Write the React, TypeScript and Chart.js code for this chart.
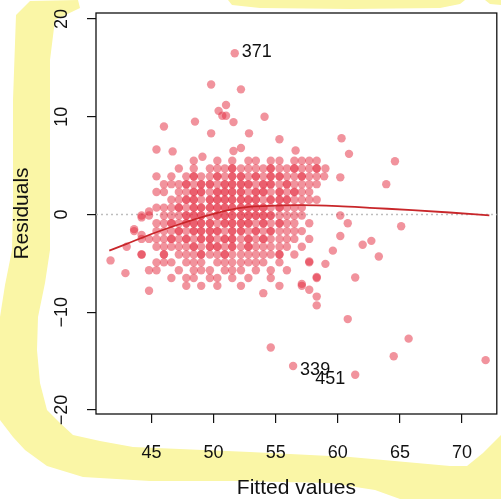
import { useEffect, useRef } from 'react';
import { Chart, registerables } from 'chart.js';

Chart.register(...registerables);

// ---------- data ----------
const residRows = [5.5, 4.7, 3.9, 3.1, 2.3, 1.5, 0.7, -0.1, -0.9, -1.7, -2.5, -3.3, -4.1, -4.9, -5.7, -6.5, -7.3];
const fittedRows = [
  [48.4, 50.3, 51.5, 52.8, 53.4, 54.6, 55.3, 56.5, 57.1, 57.7, 58.3],
  [47.2, 48.4, 49.7, 50.3, 50.9, 51.5, 52.2, 52.8, 53.4, 54.0, 54.6, 55.3, 55.9, 56.5, 57.1, 57.7, 58.3, 59.0],
  [45.4, 46.6, 47.8, 48.4, 49.0, 49.7, 50.3, 50.9, 51.5, 52.2, 52.8, 53.4, 54.0, 54.6, 55.3, 55.9, 56.5, 57.1, 57.7, 58.3, 58.9],
  [46.0, 46.6, 47.2, 47.8, 48.4, 49.0, 49.7, 50.3, 50.9, 51.5, 52.2, 52.8, 53.4, 54.0, 54.6, 55.3, 55.9, 56.5, 57.1, 57.7, 58.3],
  [45.4, 46.0, 47.2, 47.8, 48.4, 49.0, 49.7, 50.3, 50.9, 51.5, 52.2, 52.8, 53.4, 54.0, 54.6, 55.3, 55.9, 56.5, 57.1, 57.7],
  [46.6, 47.2, 47.8, 48.4, 49.0, 49.7, 50.3, 50.9, 51.5, 52.2, 52.8, 53.4, 54.0, 54.6, 55.3, 55.9, 56.5, 57.1, 57.7, 58.3],
  [45.4, 46.0, 46.6, 47.2, 47.8, 48.4, 49.0, 49.7, 50.3, 50.9, 51.5, 52.2, 52.8, 53.4, 54.0, 54.6, 55.3, 55.9, 56.5, 57.1],
  [44.2, 44.8, 46.0, 46.6, 47.2, 47.8, 48.4, 49.0, 49.7, 50.3, 50.9, 51.5, 52.2, 52.8, 53.4, 54.0, 54.6, 55.3, 55.9, 56.5, 57.1, 60.2],
  [45.4, 46.0, 46.6, 47.2, 47.8, 48.4, 49.0, 49.7, 50.3, 50.9, 51.5, 52.2, 52.8, 53.4, 54.0, 54.6, 55.3, 55.9, 56.5, 57.7, 60.8],
  [43.6, 45.4, 46.0, 46.6, 47.2, 47.8, 48.4, 49.0, 49.7, 50.3, 50.9, 51.5, 52.2, 52.8, 53.4, 54.0, 54.6, 55.3, 55.9, 56.5, 57.1],
  [44.2, 44.8, 45.4, 46.0, 46.6, 47.2, 47.8, 48.4, 49.0, 49.7, 50.3, 50.9, 51.5, 52.2, 52.8, 53.4, 54.0, 54.6, 55.3, 55.9, 56.5, 57.7],
  [43.0, 45.4, 46.0, 46.6, 47.2, 47.8, 48.4, 49.0, 49.7, 50.3, 50.9, 51.5, 52.2, 52.8, 53.4, 54.0, 54.6, 55.3, 55.9, 57.1],
  [44.2, 46.0, 47.2, 47.8, 48.4, 49.0, 49.7, 50.3, 50.9, 51.5, 52.2, 52.8, 53.4, 54.0, 54.6, 55.3, 56.5],
  [45.4, 46.0, 46.6, 47.8, 48.4, 49.0, 50.3, 50.9, 51.5, 52.2, 52.8, 53.4, 54.0, 55.3, 57.7],
  [44.8, 45.4, 47.2, 48.4, 49.0, 49.7, 50.9, 51.5, 52.2, 53.4, 54.6, 55.9],
  [46.6, 47.8, 48.4, 49.7, 50.3, 51.5, 52.8, 54.6, 58.3],
  [47.8, 49.0, 50.3, 52.2, 55.3, 57.1],
];

const coreResidRows = [4.7, 3.9, 3.1, 2.3, 1.5, 0.7, -0.1, -0.9, -1.7, -2.5, -3.3, -4.1];
const coreFittedRows = [
  [51.5, 54.6, 56.5, 58.3],
  [48.4, 50.3, 51.5, 52.2, 53.4, 54.6, 55.3, 57.1],
  [47.8, 49.0, 49.7, 50.9, 51.5, 52.2, 52.8, 54.0, 54.6, 55.9],
  [48.4, 49.0, 50.3, 50.9, 51.5, 52.2, 53.4, 54.0, 55.3, 56.5],
  [47.8, 48.4, 49.7, 50.3, 50.9, 51.5, 52.2, 52.8, 53.4, 54.6, 55.3, 55.9],
  [47.2, 48.4, 49.0, 49.7, 50.3, 50.9, 51.5, 52.2, 52.8, 53.4, 54.0, 55.3],
  [47.8, 48.4, 49.0, 50.3, 50.9, 51.5, 52.2, 52.8, 53.4, 54.0, 54.6],
  [46.6, 47.8, 48.4, 49.0, 49.7, 50.9, 51.5, 52.2, 52.8, 54.0, 55.3],
  [47.2, 48.4, 49.0, 49.7, 50.3, 51.5, 52.2, 53.4, 54.6],
  [46.6, 47.8, 49.0, 49.7, 50.9, 51.5, 52.8, 54.0],
  [48.4, 49.7, 50.3, 51.5, 52.8],
  [46.0, 49.0, 50.9, 55.3],
];

const outlierFitted = [
  51.7, 49.8, 52.2, 51.0, 50.4, 50.7, 51.0, 48.5, 51.6, 46.0, 54.1, 49.8, 52.85, 55.3, 60.3,
  45.4, 46.7, 51.6, 52.2, 56.6, 60.9, 49.1, 64.6, 63.9, 60.2, 65.1, 60.2, 62.0, 62.7, 63.3,
  61.4, 60.8, 65.7, 64.5, 71.9, 54.6, 56.4, 61.4, 58.3, 58.3, 57.7, 57.1, 59.0, 57.7, 54.0,
  41.7, 42.9, 44.8, 44.2, 43.6, 44.2, 44.8, 44.2, 58.3, 59.6,
];
const outlierResid = [
  16.5, 13.3, 12.8, 11.2, 10.6, 10.1, 10.1, 9.5, 9.45, 9.0, 10.0, 8.3, 8.3, 7.7, 7.8,
  6.65, 6.45, 6.5, 6.8, 6.55, 6.2, 5.9, 5.45, 3.1, 3.8, -1.2, -2.2, -3.1, -2.7, -4.3,
  -6.45, -10.7, -12.7, -14.5, -14.9, -13.6, -15.5, -16.4, -8.4, -9.3, -7.7, -7.1, -5.05, -4.8, -8.05,
  -4.7, -6.0, -7.8, -4.1, -1.5, -0.3, 0.3, -2.1, -6.4, -3.7,
];

const smoothFitted = [41.6, 43, 45, 47, 49, 51, 53, 55, 57, 60, 63, 66, 69, 72.2];
const smoothResid = [-3.7, -3.0, -2.0, -1.1, -0.3, 0.4, 0.8, 0.9, 0.95, 0.85, 0.65, 0.45, 0.2, -0.1];

const labelIds = ['371', '339', '451'];
const labelFitted = [51.7, 56.4, 61.4];
const labelResid = [16.5, -15.5, -16.4];

const fittedTicks = [45, 50, 55, 60, 65, 70];
const residTicks = [-20, -10, 0, 10, 20];

const X_MIN = 40.53;
const X_MAX = 72.8;
const Y_MIN = -20.41;
const Y_MAX = 20.61;

function rowsToPoints(ys: number[], xs: number[][]) {
  const out: { x: number; y: number }[] = [];
  ys.forEach((y, i) => xs[i].forEach((x) => out.push({ x, y })));
  return out;
}

const FONT = "'Liberation Sans', Arial, Helvetica, sans-serif";
const DOT = 'rgba(228, 48, 68, 0.52)';
const YELLOW = 'rgb(250, 246, 166)';

const backgroundPlugin = {
  id: 'highlighter',
  beforeDraw(chart: any) {
    const { ctx, width, height } = chart;
    ctx.save();
    ctx.fillStyle = '#ffffff';
    ctx.fillRect(0, 0, width, height);
    ctx.fillStyle = YELLOW;
    const bands: number[][][] = [
      [
        [78, 0], [30, 1], [16, 15], [13, 100], [13, 200], [12, 250], [5, 285], [0, 317], [0, 420],
        [13, 437], [25, 450], [47, 466], [83, 477], [150, 481], [233, 481], [330, 483], [375, 490],
        [400, 499], [501, 499], [501, 435], [483, 453], [467, 466], [450, 466], [350, 457],
        [250, 452], [133, 447], [100, 441], [73, 435], [60, 423], [47, 410], [40, 383], [37, 350],
        [38, 317], [45, 283], [50, 250], [50, 150], [50, 60], [55, 20], [80, 8],
      ],
      [[228, 0], [232, 5], [260, 8], [350, 9], [440, 8], [460, 4], [465, 0]],
      [[485, 0], [490, 4], [501, 5], [501, 0]],
    ];
    bands.forEach((poly) => {
      ctx.beginPath();
      poly.forEach(([x, y], i) => (i === 0 ? ctx.moveTo(x, y) : ctx.lineTo(x, y)));
      ctx.closePath();
      ctx.fill();
    });
    ctx.restore();
  },
  beforeDatasetsDraw(chart: any) {
    const { ctx, chartArea } = chart;
    ctx.save();
    ctx.strokeStyle = '#111';
    ctx.lineWidth = 1.3;
    ctx.strokeRect(chartArea.left, chartArea.top, chartArea.right - chartArea.left, chartArea.bottom - chartArea.top);
    ctx.restore();
  },
  afterDatasetsDraw(chart: any) {
    const { ctx, scales } = chart;
    ctx.save();
    ctx.font = `18px ${FONT}`;
    ctx.fillStyle = '#111';
    ctx.textBaseline = 'middle';
    const offsets = [
      { dx: 7, dy: -1.5, align: 'left' },
      { dx: 7, dy: 4, align: 'left' },
      { dx: -10, dy: 4.5, align: 'right' },
    ];
    labelIds.forEach((id, i) => {
      const px = scales.x.getPixelForValue(labelFitted[i]);
      const py = scales.y.getPixelForValue(labelResid[i]);
      ctx.textAlign = offsets[i].align;
      ctx.fillText(id, px + offsets[i].dx, py + offsets[i].dy);
    });
    ctx.restore();
  },
};

export default function App() {
  const canvasRef = useRef<HTMLCanvasElement | null>(null);

  useEffect(() => {
    const canvas = canvasRef.current;
    if (!canvas) return;
    const chart = new Chart(canvas, {
      type: 'scatter',
      data: {
        datasets: [
          {
            type: 'line',
            label: 'smooth',
            data: smoothFitted.map((x, i) => ({ x, y: smoothResid[i] })),
            borderColor: 'rgb(200, 38, 42)',
            borderWidth: 1.8,
            pointRadius: 0,
            fill: false,
            cubicInterpolationMode: 'monotone',
            order: 0,
          } as any,
          {
            label: 'core',
            data: rowsToPoints(coreResidRows, coreFittedRows),
            backgroundColor: DOT,
            borderWidth: 0,
            pointRadius: 4.2,
            order: 1,
          },
          {
            label: 'residuals',
            data: [
              ...rowsToPoints(residRows, fittedRows),
              ...outlierFitted.map((x, i) => ({ x, y: outlierResid[i] })),
            ],
            backgroundColor: DOT,
            borderWidth: 0,
            pointRadius: 4.2,
            order: 2,
          },
          {
            type: 'line',
            label: 'zero',
            data: [
              { x: X_MIN, y: 0 },
              { x: X_MAX, y: 0 },
            ],
            borderColor: 'rgb(190, 190, 190)',
            borderWidth: 1.5,
            borderDash: [2, 3],
            pointRadius: 0,
            fill: false,
            order: 3,
          } as any,
        ],
      },
      options: {
        animation: false,
        responsive: false,
        devicePixelRatio: 1,
        layout: { padding: { top: 13, right: 1, left: 0, bottom: 0 } },
        plugins: { legend: { display: false }, tooltip: { enabled: false } },
        scales: {
          x: {
            type: 'linear',
            min: X_MIN,
            max: X_MAX,
            afterBuildTicks: (scale: any) => {
              scale.ticks = fittedTicks.map((v) => ({ value: v }));
            },
            afterFit: (scale: any) => {
              scale.height = 85;
              scale.paddingLeft = 0;
              scale.paddingRight = 0;
            },
            border: { display: false },
            grid: { drawOnChartArea: false, drawTicks: true, tickLength: 9, color: '#111', lineWidth: 1.2 },
            ticks: {
              autoSkip: false,
              maxRotation: 0,
              padding: 19,
              color: '#111',
              font: { family: FONT, size: 18 },
              callback: (v: any) => String(v),
            },
            title: {
              display: true,
              text: 'Fitted values',
              color: '#111',
              font: { family: FONT, size: 21 },
              padding: { top: 0, bottom: -2 },
            },
          },
          y: {
            type: 'linear',
            min: Y_MIN,
            max: Y_MAX,
            afterBuildTicks: (scale: any) => {
              scale.ticks = residTicks.map((v) => ({ value: v }));
            },
            afterFit: (scale: any) => {
              scale.width = 96;
              scale.paddingTop = 0;
              scale.paddingBottom = 0;
            },
            border: { display: false },
            grid: { drawOnChartArea: false, drawTicks: true, tickLength: 9, color: '#111', lineWidth: 1.2 },
            ticks: {
              autoSkip: false,
              minRotation: 90,
              maxRotation: 90,
              crossAlign: 'center',
              padding: 10,
              color: '#111',
              font: { family: FONT, size: 18 },
              callback: (v: any) => String(v).replace('-', '\u2212'),
            },
            title: {
              display: true,
              text: 'Residuals',
              color: '#111',
              font: { family: FONT, size: 21 },
              padding: { top: 10, bottom: 0 },
            },
          },
        },
      } as any,
      plugins: [backgroundPlugin],
    });
    return () => chart.destroy();
  }, []);

  return (
    <div style={{ position: 'fixed', left: 0, top: 0, width: 501, height: 499, overflow: 'hidden', background: '#fff' }}>
      <canvas ref={canvasRef} width={501} height={499} style={{ display: 'block', width: 501, height: 499 }} />
    </div>
  );
}
